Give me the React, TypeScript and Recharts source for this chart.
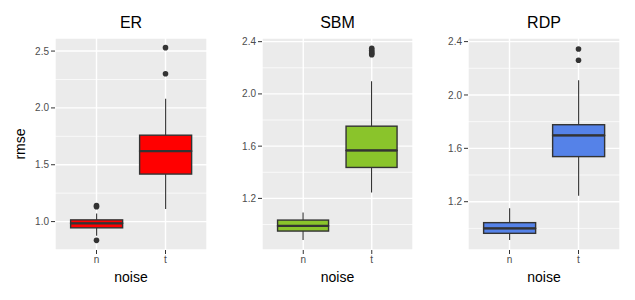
import React from "react";
import { ComposedChart, Bar, Scatter, XAxis, YAxis, CartesianGrid } from "recharts";

const categories = ["n", "t"];
// lower whisker, q1, median, q3, upper whisker
const erN = [0.875, 0.945, 0.985, 1.015, 1.07];
const erT = [1.11, 1.418, 1.62, 1.76, 2.08];
const sbmN = [0.881, 0.95, 0.99, 1.034, 1.093];
const sbmT = [1.246, 1.437, 1.567, 1.753, 2.097];
const rdpN = [0.913, 0.963, 1.0, 1.043, 1.15];
const rdpT = [1.245, 1.538, 1.697, 1.777, 2.11];
// outliers per noise level
const erOutN = [1.13, 1.14, 0.835];
const erOutT = [2.3, 2.53];
const sbmOutN: number[] = [];
const sbmOutT = [2.3, 2.31, 2.32, 2.335, 2.35];
const rdpOutN: number[] = [];
const rdpOutT = [2.26, 2.345];
// axis breaks
const erTicks = [1.0, 1.5, 2.0, 2.5];
const erMinor = [1.25, 1.75, 2.25];
const graphTicks = [1.2, 1.6, 2.0, 2.4];
const graphMinor = [1.0, 1.4, 1.8, 2.2];

const font = '"Liberation Sans", Arial, sans-serif';

function rows(n: number[], t: number[]) {
  return [n, t].map((s, i) => ({
    noise: categories[i],
    base: s[0], w1: s[1] - s[0], b1: s[2] - s[1], b2: s[3] - s[2], w2: s[4] - s[3],
  }));
}
function points(n: number[], t: number[]) {
  return [...n.map(v => ({ noise: "n", rmse: v })), ...t.map(v => ({ noise: "t", rmse: v }))];
}

const Hidden = () => <g />;
const Whisker = (p: any) => <line x1={p.x + p.width / 2} x2={p.x + p.width / 2} y1={p.y} y2={p.y + p.height} stroke="#333" strokeWidth={1.1} />;
const boxLow = (fill: string) => (p: any) => <rect x={p.x} y={p.y} width={p.width} height={p.height} fill={fill} stroke="#333" strokeWidth={1.4} />;
const boxHigh = (fill: string) => (p: any) => <g>
  <rect x={p.x} y={p.y} width={p.width} height={p.height} fill={fill} stroke="#333" strokeWidth={1.4} />
  <line x1={p.x} x2={p.x + p.width} y1={p.y + p.height} y2={p.y + p.height} stroke="#333" strokeWidth={2.3} />
</g>;
const Dot = (p: any) => <circle cx={p.cx} cy={p.cy} r={2.8} fill="#333" />;

interface PanelProps {
  title: string; left: number; width: number; yWidth: number; right: number;
  data: any[]; outliers: any[]; domain: [number, number]; ticks: number[]; minor: number[];
  fill: string; yLabel?: string;
}

function Panel({ title, left, width, yWidth, right, data, outliers, domain, ticks, minor, fill, yLabel }: PanelProps) {
  const plotLeft = left + yWidth, plotRight = left + width - right;
  return <>
    <div style={{ position: "absolute", left: plotLeft, width: plotRight - plotLeft, top: 14.5, lineHeight: "16px", fontSize: 16, textAlign: "center", color: "#000" }}>{title}</div>
    <div style={{ position: "absolute", left, top: 0 }}>
      <ComposedChart width={width} height={300} data={data} margin={{ top: 38, right, bottom: 0, left: 0 }} barCategoryGap="12.5%">
        <CartesianGrid fill="#EBEBEB" stroke="#fff" strokeWidth={0.7} vertical={false} horizontalValues={minor} />
        <CartesianGrid stroke="#fff" strokeWidth={1.4} />
        <XAxis dataKey="noise" type="category" allowDuplicatedCategory={false} padding={{ left: 7, right: 7 }} height={50}
          axisLine={false} tickSize={4} tickLine={{ stroke: "#333" }} tick={{ fill: "#4D4D4D", fontSize: 10 }}
          label={({ viewBox }: any) => <text x={viewBox.x + viewBox.width / 2} y={viewBox.y + 32} textAnchor="middle" fontSize={14} fill="#000">noise</text>} />
        <YAxis type="number" domain={domain} allowDataOverflow ticks={ticks} tickFormatter={(v: number) => v.toFixed(1)} width={yWidth}
          axisLine={false} tickSize={4} tickMargin={2} tickLine={{ stroke: "#333" }} tick={{ fill: "#4D4D4D", fontSize: 10 }}
          label={yLabel ? ({ viewBox }: any) => {
            const cx = viewBox.x + 25, cy = viewBox.y + viewBox.height / 2;
            return <text x={cx} y={cy} transform={`rotate(-90 ${cx} ${cy})`} textAnchor="middle" fontSize={14} fill="#000">{yLabel}</text>;
          } : undefined} />
        <Bar dataKey="base" stackId="box" shape={Hidden} isAnimationActive={false} />
        <Bar dataKey="w1" stackId="box" shape={Whisker} isAnimationActive={false} />
        <Bar dataKey="b1" stackId="box" shape={boxLow(fill)} isAnimationActive={false} />
        <Bar dataKey="b2" stackId="box" shape={boxHigh(fill)} isAnimationActive={false} />
        <Bar dataKey="w2" stackId="box" shape={Whisker} isAnimationActive={false} />
        <Scatter data={outliers} dataKey="rmse" shape={Dot} isAnimationActive={false} />
      </ComposedChart>
    </div>
  </>;
}

export default function App() {
  return <div style={{ position: "absolute", left: 0, top: 0, width: 635, height: 300, background: "#fff", fontFamily: font, overflow: "hidden" }}>
    <Panel title="ER" left={0} width={212} yWidth={55} right={5} data={rows(erN, erT)} outliers={points(erOutN, erOutT)}
      domain={[0.75, 2.615]} ticks={erTicks} minor={erMinor} fill="#FF0000" yLabel="rmse" />
    <Panel title="SBM" left={212} width={206} yWidth={50} right={5} data={rows(sbmN, sbmT)} outliers={points(sbmOutN, sbmOutT)}
      domain={[0.805, 2.428]} ticks={graphTicks} minor={graphMinor} fill="#8AC42B" />
    <Panel title="RDP" left={418} width={217} yWidth={50} right={15} data={rows(rdpN, rdpT)} outliers={points(rdpOutN, rdpOutT)}
      domain={[0.838, 2.427]} ticks={graphTicks} minor={graphMinor} fill="#5582E8" />
  </div>;
}
